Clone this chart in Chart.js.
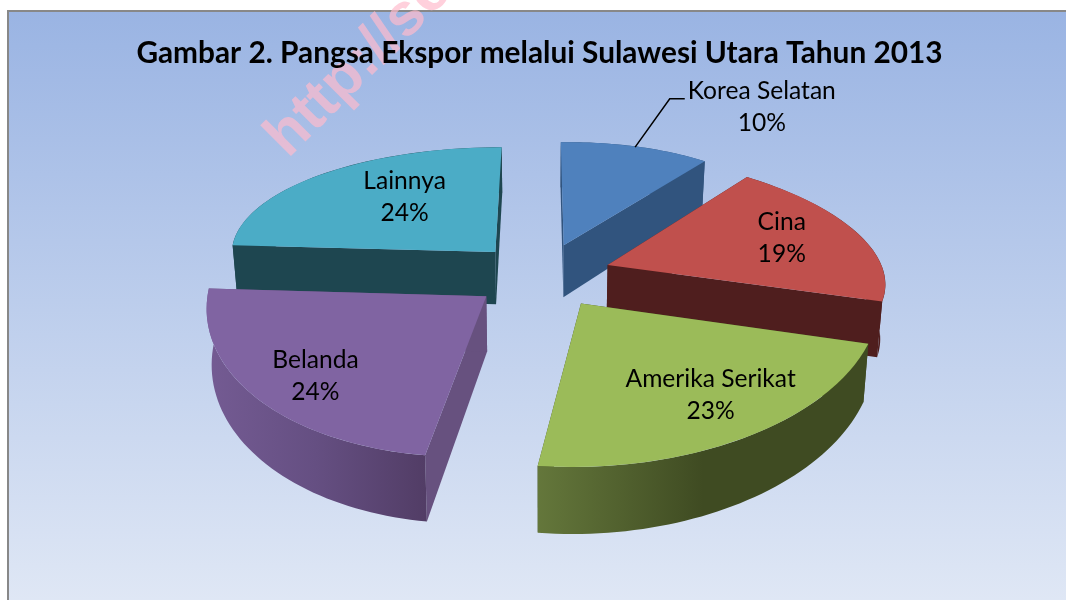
<!DOCTYPE html>
<html><head><meta charset="utf-8">
<style>html,body{margin:0;padding:0;background:#fff}#w{width:1066px;height:600px}</style>
<script src="https://cdn.jsdelivr.net/npm/chart.js@4"></script>
</head><body><div id="w"><canvas id="c" width="1066" height="600"></canvas></div>
<script>
const categories = ['Korea Selatan','Cina','Amerika Serikat','Belanda','Lainnya'];
const shares = [10.45,19.05,22.9,23.5,24.1];
const titleText = 'Gambar 2. Pangsa Ekspor melalui Sulawesi Utara Tahun 2013';
const watermark = 'http://sosbud';
const topColors = ['#4F81BD','#C0504D','#9BBB59','#8064A2','#4BACC6'];
const wallColors = ['#31547E','#4F1E1E','#3F4B22','#67517F','#1E4650'];
const rimColors = [['#31547E','#31547E','#31547E'],['#4F1E1E','#4F1E1E','#4F1E1E'],['#64773B','#3F4B22','#3F4B22'],['#745B93','#654F82','#523D66'],['#1E4650','#1E4650','#1E4650']];
const drawOrder = [0,4,1,3,2];
const labelRadial = [1.70,0.71,0.72,0.76,0.62];
const labelTurnDeg = [14.5,0,-1,-6,5.5];

const cam = {cx:542,cy:275,sx:1.165,tilt:0.545,persp:0.00068,R:235,explode:60,H:54,baseShrink:0.985};
function project(X,Y){const w=1+cam.persp*Y;return {x:cam.cx+cam.sx*X/w,y:cam.cy-cam.tilt*Y/w,w};}
function base(p){return {x:cam.cx+(p.x-cam.cx)*cam.baseShrink,y:p.y+cam.H/p.w};}

const pie3d = {
  id:'pie3d',
  beforeDraw(chart){
    const ctx=chart.ctx,W=chart.width,H=chart.height;
    ctx.save();
    ctx.fillStyle='#fff';ctx.fillRect(0,0,W,H);
    const g=ctx.createLinearGradient(0,12,0,H);
    g.addColorStop(0,'#9AB4E3');g.addColorStop(1,'#DFE7F5');
    ctx.fillStyle=g;ctx.fillRect(8,11,W-8,H-11);
    ctx.fillStyle='#888';ctx.fillRect(7,10,W-7,2);ctx.fillRect(7,10,2,H-10);
    ctx.translate(288,159);ctx.rotate(-Math.PI/4);
    ctx.font='bold 60px "Liberation Sans"';
    ctx.fillStyle='rgba(255,187,204,0.69)';
    ctx.textAlign='left';ctx.textBaseline='alphabetic';
    ctx.fillText(watermark,0,0);
    ctx.restore();
  },
  beforeDatasetsDraw(chart){
    const ctx=chart.ctx,arcs=chart.getDatasetMeta(0).data;
    drawOrder.forEach(i=>{
      const a=arcs[i],k=cam.R/a.outerRadius,mid=(a.startAngle+a.endAngle)/2;
      const ox=Math.cos(mid)*cam.explode,oy=-Math.sin(mid)*cam.explode;
      const plane=(ang,r)=>project(ox+Math.cos(ang)*r*k,oy-Math.sin(ang)*r*k);
      const S0=plane(0,0),S1=plane(a.startAngle,a.outerRadius),S2=plane(a.endAngle,a.outerRadius);
      const r=a.outerRadius;
      const u1=[Math.cos(a.startAngle)*r,Math.sin(a.startAngle)*r],u2=[Math.cos(a.endAngle)*r,Math.sin(a.endAngle)*r];
      const v1=[S1.x-S0.x,S1.y-S0.y],v2=[S2.x-S0.x,S2.y-S0.y];
      const det=u1[0]*u2[1]-u2[0]*u1[1];
      const m=[(v1[0]*u2[1]-v2[0]*u1[1])/det,(v1[1]*u2[1]-v2[1]*u1[1])/det,(v2[0]*u1[0]-v1[0]*u2[0])/det,(v2[1]*u1[0]-v1[1]*u2[0])/det];
      const e=S0.x-m[0]*a.x-m[2]*a.y,f=S0.y-m[1]*a.x-m[3]*a.y;
      const walls=[S1,S2];
      walls.forEach(p=>{
        const b0=base(S0),b1=base(p);
        ctx.beginPath();ctx.moveTo(S0.x,S0.y);ctx.lineTo(p.x,p.y);ctx.lineTo(b1.x,b1.y);ctx.lineTo(b0.x,b0.y);ctx.closePath();
        ctx.fillStyle=wallColors[i];ctx.fill();
      });
      const tops=[],bots=[];
      for(let j=0;j<=48;j++){
        const ang=a.startAngle+(a.endAngle-a.startAngle)*j/48;
        const tw=plane(ang,r).w;
        const lx=Math.cos(ang)*r,ly=Math.sin(ang)*r;
        const p={x:S0.x+m[0]*lx+m[2]*ly,y:S0.y+m[1]*lx+m[3]*ly,w:tw};
        tops.push(p);bots.push(base(p));
      }
      const xs=tops.map(p=>p.x),x0=Math.min(...xs),x1=Math.max(...xs);
      const g=ctx.createLinearGradient(x0,0,x1,0);
      rimColors[i].forEach((c,n)=>g.addColorStop(n/2,c));
      ctx.beginPath();
      tops.forEach((p,n)=>n?ctx.lineTo(p.x,p.y):ctx.moveTo(p.x,p.y));
      bots.reverse().forEach(p=>ctx.lineTo(p.x,p.y));
      ctx.closePath();ctx.fillStyle=g;ctx.fill();
      ctx.save();ctx.transform(m[0],m[1],m[2],m[3],e,f);a.draw(ctx);ctx.restore();
    });
    ctx.save();
    ctx.font='24.6px Lato';ctx.textAlign='center';ctx.textBaseline='middle';ctx.fillStyle='#000';
    arcs.forEach((a,i)=>{
      const k=cam.R/a.outerRadius,mid=(a.startAngle+a.endAngle)/2;
      const ox=Math.cos(mid)*cam.explode,oy=-Math.sin(mid)*cam.explode;
      const la=mid+labelTurnDeg[i]*Math.PI/180,lr=labelRadial[i]*cam.R;
      const p=project(ox+Math.cos(la)*lr,oy-Math.sin(la)*lr);
      if(labelRadial[i]>1){
        const q=project(ox+Math.cos(mid)*cam.R,oy-Math.sin(mid)*cam.R);
        ctx.beginPath();ctx.moveTo(q.x,q.y);ctx.lineTo(p.x-92,p.y-8);ctx.lineTo(p.x-77,p.y-8);
        ctx.lineWidth=1.5;ctx.strokeStyle='#000';ctx.stroke();
      }
      ctx.fillText(categories[i],p.x,p.y-16);
      ctx.fillText(Math.round(shares[i])+'%',p.x,p.y+16);
    });
    ctx.restore();
    return false;
  }
};

new Chart(document.getElementById('c'),{
  type:'pie',
  data:{labels:categories,datasets:[{data:shares,backgroundColor:topColors,borderWidth:0}]},
  options:{
    responsive:false,animation:false,events:[],
    layout:{padding:{left:13,top:36}},
    plugins:{
      legend:{display:false},tooltip:{enabled:false},
      title:{display:true,text:titleText,color:'#000',font:{family:'Lato',weight:'bold',size:29.8},padding:{top:0,bottom:0}}
    }
  },
  plugins:[pie3d]
});
</script></body></html>
